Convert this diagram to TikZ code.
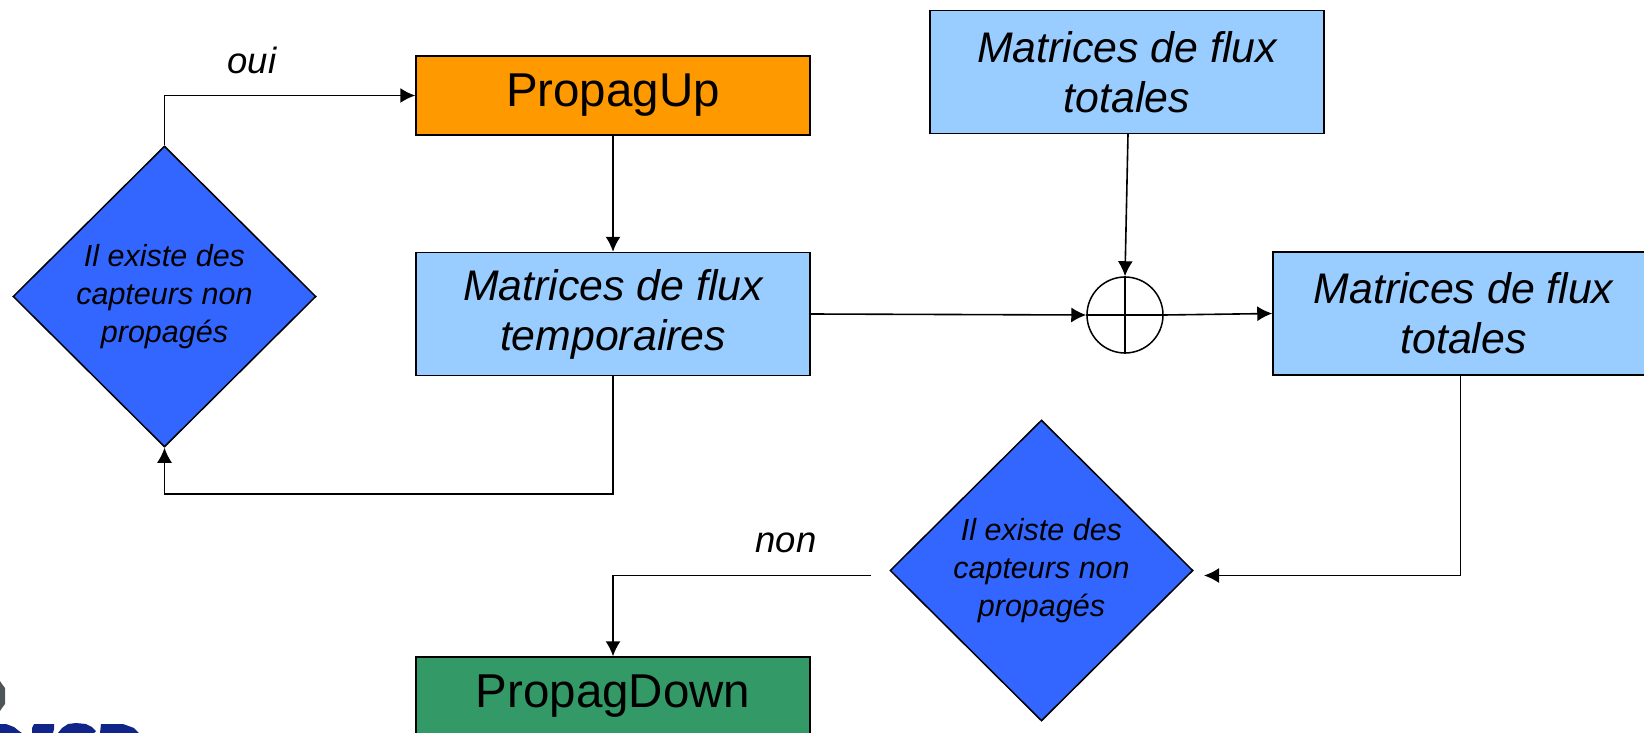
\documentclass[tikz,border=0pt]{standalone}
\usepackage{fontspec}
\setmainfont{Liberation Sans}
\usetikzlibrary{arrows.meta,shapes.geometric}
\definecolor{fluxblue}{HTML}{99CCFF}
\definecolor{testblue}{HTML}{3366FF}
\definecolor{uporange}{HTML}{FF9900}
\definecolor{downgreen}{HTML}{339966}
\definecolor{logoblue}{HTML}{10248A}
\definecolor{logogray}{HTML}{4E5558}
\tikzset{
    stepbox/.style={draw=black, line width=1.5pt, inner sep=0pt, minimum width=394pt, align=center},
    fluxbox/.style={stepbox, fill=fluxblue, minimum height=123pt, font=\fontsize{42.8}{50}\selectfont\itshape},
    algobox/.style={stepbox, minimum height=79pt, font=\fontsize{47.5}{52}\selectfont},
    testbox/.style={draw=black, line width=1.5pt, fill=testblue, shape=diamond, inner sep=0pt, minimum width=303pt, minimum height=301pt, align=center, font=\fontsize{30.5}{38}\selectfont\itshape},
    flow/.style={draw=black, line width=1.6pt, -{Latex[length=15pt,width=15pt]}},
    word/.style={font=\fontsize{36.5}{40}\selectfont\itshape},
}
\begin{document}
\begin{tikzpicture}[x=1pt, y=-1pt]
    \clip (0,0) rectangle (1644,733);
    % logo remains, bottom left corner
    \fill[logogray] (0,681) -- (2,684) -- (5,688) -- (5,704) -- (2,708) -- (0,711) -- cycle;
    \fill[logoblue] (0,724) -- (6,724) -- (14,727) -- (19,731) -- (22,733) -- (0,733) -- cycle;
    \fill[logoblue] (34,724) -- (54,724) -- (54,729) -- (53,733) -- (32,733) -- (32,728) -- cycle;
    \fill[logoblue] (58,733) -- (62,728) -- (68,724) -- (76,723) -- (86,724) -- (92,727) -- (96,731) -- (94,733) -- cycle;
    \fill[logoblue] (101,724) -- (123,724) -- (134,728) -- (139,733) -- (100,733) -- cycle;

    % boxes
    \node[algobox, fill=uporange] (up) at (613,95.5) {PropagUp};
    \node[fluxbox] (temp) at (613,314) {Matrices de flux\\temporaires};
    \node[fluxbox] (totaltop) at (1127,72) {Matrices de flux\\totales};
    \node[fluxbox, minimum width=381pt] (totalright) at (1463.5,313.5) {Matrices de flux\\totales};
    \node[algobox, fill=downgreen] (down) at (613,696.5) {PropagDown};

    % tests
    \node[testbox] (testup) at (164.5,296.5) {Il existe des\\capteurs non\\propagés};
    \node[testbox] (testdown) at (1041.5,570.5) {Il existe des\\capteurs non\\propagés};

    % sum
    \node[shape=circle, draw=black, line width=1.5pt, inner sep=0pt, minimum size=76pt] (sum) at (1125,315) {};
    \draw[line width=1.5pt] (sum.north) -- (sum.south);
    \draw[line width=1.5pt] (sum.west) -- (sum.east);

    % free ends of the last test
    \coordinate (testin) at (1204,575.5);
    \coordinate (testout) at (871,575.5);

    % connectors
    \draw[flow] (testup.north) |- (up.west);
    \draw[flow] (up.south) -- (temp.north);
    \draw[flow] (temp.south) -- (613,494) -| (testup.south);
    \draw[flow] (temp.east) -- (sum.west);
    \draw[flow] (1128,134) -- (sum.north);
    \draw[flow] (sum.east) -- (totalright.west);
    \draw[flow] (1460.5,375) |- (testin);
    \draw[flow] (testout) -| (down.north);

    % labels
    \node[word] (oui) at (252,60) {oui};
    \node[word] (non) at (786,543) {non};
\end{tikzpicture}
\end{document}
